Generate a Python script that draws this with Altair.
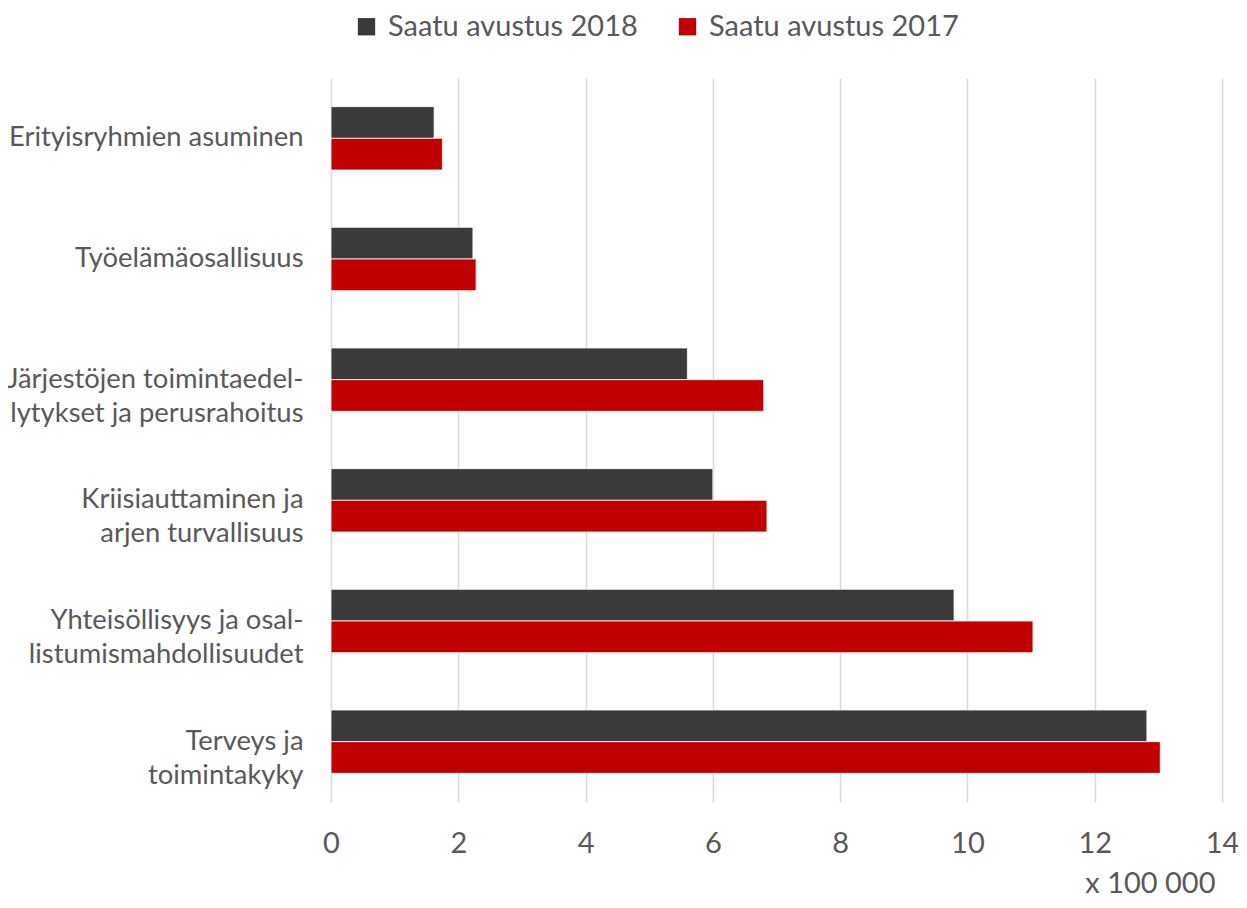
import altair as alt
import pandas as pd

categories = [
    "Erityisryhmien asuminen",
    "Työelämäosallisuus",
    "Järjestöjen toimintaedel-|lytykset ja perusrahoitus",
    "Kriisiauttaminen ja|arjen turvallisuus",
    "Yhteisöllisyys ja osal-|listumismahdollisuudet",
    "Terveys ja|toimintakyky",
]
series = ["Saatu avustus 2018", "Saatu avustus 2017"]
values_2018 = [1.62, 2.23, 5.60, 6.00, 9.79, 12.82]
values_2017 = [1.75, 2.28, 6.80, 6.85, 11.03, 13.03]
colors = ["#3b3a3b", "#c00000"]
x_ticks = [0, 2, 4, 6, 8, 10, 12, 14]

rows = []
for c, a, b in zip(categories, values_2018, values_2017):
    rows.append({"category": c, "series": series[0], "value": a})
    rows.append({"category": c, "series": series[1], "value": b})
df = pd.DataFrame(rows)

FONT = "Lato"
TXT = "#595959"

chart = alt.Chart(df).mark_bar(stroke="white", strokeWidth=0.8).encode(
    y=alt.Y(
        "category:N",
        sort=categories,
        scale=alt.Scale(paddingInner=0.475, paddingOuter=0.2375),
        axis=alt.Axis(
            title=None,
            domain=False,
            ticks=False,
            labelExpr="split(datum.label, '|')",
            labelFont=FONT,
            labelFontSize=27.4,
            labelColor=TXT,
            labelPadding=28,
            labelLineHeight=34,
            labelLimit=400,
        ),
    ),
    yOffset=alt.YOffset("series:N", sort=series),
    x=alt.X(
        "value:Q",
        scale=alt.Scale(domain=[0, 14], nice=False),
        axis=alt.Axis(
            values=x_ticks,
            title="x 100 000",
            titleFont=FONT,
            titleFontSize=29,
            titleFontWeight="normal",
            titleColor=TXT,
            titleAnchor="end",
            titleAlign="right",
            titleBaseline="middle",
            titleX=884,
            titleY=81,
            domain=False,
            ticks=False,
            labelFont=FONT,
            labelFontSize=29,
            labelColor=TXT,
            labelPadding=27,
            labelFlush=False,
            grid=True,
            gridColor="#d9d9d9",
            gridWidth=1.6,
        ),
    ),
    color=alt.Color(
        "series:N",
        sort=series,
        scale=alt.Scale(domain=series, range=colors),
        legend=alt.Legend(
            title=None,
            orient="none",
            direction="horizontal",
            legendX=21,
            legendY=-66,
            symbolType="square",
            symbolSize=300,
            symbolStrokeWidth=0,
            labelFont=FONT,
            labelFontSize=29,
            labelColor=TXT,
            labelOffset=7,
            labelLimit=400,
            columnPadding=35,
        ),
    ),
).properties(
    width=891,
    height=724,
    padding={"left": 323, "top": 70, "right": 16, "bottom": 96},
    autosize=alt.AutoSizeParams(type="none"),
).configure_view(stroke=None)

chart.save("out.html", embed_options={"renderer": "svg", "actions": False})
